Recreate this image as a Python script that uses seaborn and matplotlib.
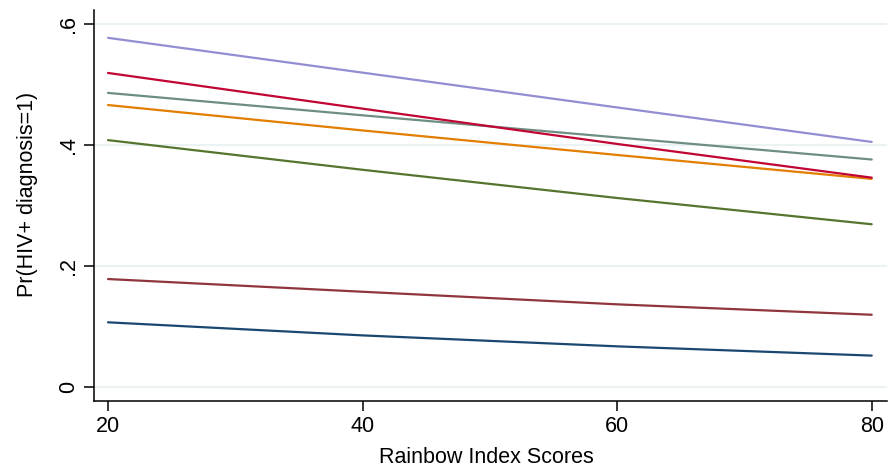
import matplotlib
matplotlib.use("Agg")
import matplotlib.pyplot as plt
import seaborn as sns
import pandas as pd

x_scores = [20, 40, 60, 80]
navy = [0.107, 0.0854, 0.0673, 0.052]
maroon = [0.1785, 0.1575, 0.1367, 0.1195]
forest = [0.408, 0.359, 0.3124, 0.269]
dkorange = [0.466, 0.424, 0.3835, 0.344]
teal = [0.486, 0.449, 0.4125, 0.376]
cranberry = [0.519, 0.460, 0.4017, 0.346]
lavender = [0.577, 0.5195, 0.462, 0.405]

series_names = ["s1", "s2", "s3", "s4", "s5", "s6", "s7"]
series_vals = [navy, maroon, forest, dkorange, teal, cranberry, lavender]
colors = ["#1a476f", "#90353b", "#55752f", "#e37e00", "#6e8e84", "#c10534", "#938dd2"]

y_ticks = [0, 0.2, 0.4, 0.6]
y_ticklabels = ["0", ".2", ".4", ".6"]
x_ticks = [20, 40, 60, 80]

rows = []
for name, vals in zip(series_names, series_vals):
    for xv, yv in zip(x_scores, vals):
        rows.append({"x": xv, "y": yv, "series": name})
df = pd.DataFrame(rows)

sns.set_style("white")
plt.rcParams["font.family"] = ["Liberation Sans", "DejaVu Sans"]
plt.rcParams["text.color"] = "black"
plt.rcParams["axes.labelcolor"] = "black"
plt.rcParams["xtick.color"] = "black"
plt.rcParams["ytick.color"] = "black"

W, H = 893, 470
fig = plt.figure(figsize=(W / 100, H / 100), dpi=100)
ax = fig.add_axes([94 / W, 1 - 401 / H, (887 - 94) / W, (401 - 10) / H])

for yv in y_ticks:
    ax.axhline(yv, color="#eaf2f3", lw=1.5, zorder=0)

sns.lineplot(data=df, x="x", y="y", hue="series", palette=colors, ax=ax,
             legend=False, lw=1.6, estimator=None)

ax.set_xlim(18.9, 81.2)
ax.set_ylim(-0.023, 0.623)
ax.set_xticks(x_ticks)
ax.set_yticks(y_ticks)
ax.set_yticklabels(y_ticklabels, rotation=90, va="center")
ax.tick_params(axis="both", direction="out", length=7, width=1.1, color="black",
               labelcolor="black", labelsize=15.5, pad=4, left=True, bottom=True)
for s in ["top", "right"]:
    ax.spines[s].set_visible(False)
for s in ["left", "bottom"]:
    ax.spines[s].set_color("black")
    ax.spines[s].set_linewidth(1.1)

ax.set_xlabel("Rainbow Index Scores", fontsize=15.5, color="black")
ax.set_ylabel("Pr(HIV+ diagnosis=1)", fontsize=15.5, labelpad=14, color="black")
ax.xaxis.set_label_coords(0.495, -0.118)
ax.yaxis.label.set_y(0.528)

fig.savefig("out.png", dpi=100, facecolor="white")
